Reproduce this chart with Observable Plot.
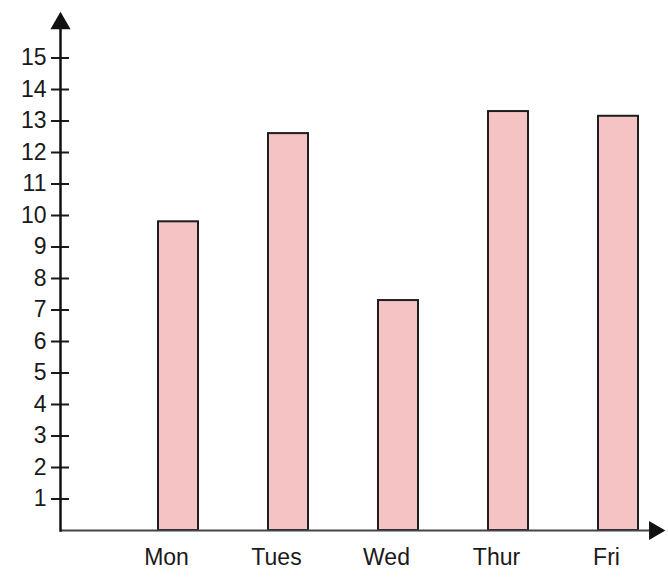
<!DOCTYPE html>
<html><head><meta charset="utf-8">
<script src="https://cdn.jsdelivr.net/npm/d3@7"></script>
<script src="https://cdn.jsdelivr.net/npm/@observablehq/plot@0.6"></script>
<style>body{margin:0;background:#fff;}</style>
</head><body><div id="chart"></div>
<script>
const days = ["Mon", "Tues", "Wed", "Thur", "Fri"];
const values = [9.8, 12.6, 7.3, 13.3, 13.15];
const yTicks = [1, 2, 3, 4, 5, 6, 7, 8, 9, 10, 11, 12, 13, 14, 15];

const data = days.map((d, i) => ({day: d, value: values[i]}));

const chart = Plot.plot({
  width: 668, height: 584,
  marginLeft: 60, marginRight: 14, marginTop: 26, marginBottom: 54,
  style: {fontFamily: "'Liberation Sans', Arial, sans-serif", fontSize: "23px", background: "white", color: "#1a1a1a"},
  x: {domain: days, paddingInner: 0.64, paddingOuter: 0.496, align: 0.86, label: null},
  y: {domain: [0, 16], label: null},
  marks: [
    Plot.barY(data, {x: "day", y: "value", fill: "#f5c3c3", stroke: "#1e1e1e", strokeWidth: 2}),
    Plot.ruleY([0], {stroke: "#444", strokeWidth: 2}),
    Plot.axisX({tickSize: 0, tickPadding: 18, fontSize: 23, dx: -12}),
    Plot.axisY(yTicks, {tickSize: 18, dx: 9, tickFormat: () => "", strokeWidth: 2}),
    Plot.axisY(yTicks, {tickSize: 0, tickPadding: 14, fontSize: 23}),
    Plot.frame({anchor: "left", strokeWidth: 2.5, stroke: "#111"}),
    Plot.dot([0], {x: null, y: null, frameAnchor: "top-left", dy: -3, symbol: "triangle", r: 7.5, fill: "#111", stroke: null}),
    Plot.dot([0], {x: null, y: (d) => d, frameAnchor: "right", symbol: "triangle", rotate: 90, r: 7, fill: "#111", stroke: null})
  ]
});
document.getElementById("chart").appendChild(chart);
</script>
</body></html>
